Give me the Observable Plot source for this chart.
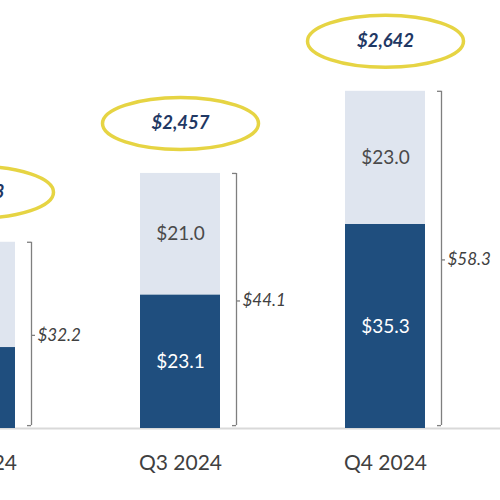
<!DOCTYPE html>
<html>
<head>
<meta charset="utf-8">
<script src="https://cdn.jsdelivr.net/npm/d3@7"></script>
<script src="https://cdn.jsdelivr.net/npm/@observablehq/plot@0.6"></script>
<style>
  html, body { margin: 0; padding: 0; background: #fff; }
  #chart { width: 500px; height: 500px; overflow: hidden; }
  svg { display: block; }
</style>
</head>
<body>
<div id="chart"></div>
<script>
const quarters = ["Q2 2024", "Q3 2024", "Q4 2024"];
const darkValues = [14.0, 23.1, 35.3];
const lightValues = [18.2, 21.0, 23.0];
const totals = [32.2, 44.1, 58.3];
const ellipseLabels = ["$2,283", "$2,457", "$2,642"];

const segments = [];
quarters.forEach((q, i) => {
  segments.push({q, seg: "dark", y1: 0, y2: darkValues[i], v: darkValues[i]});
  segments.push({q, seg: "light", y1: darkValues[i], y2: darkValues[i] + lightValues[i], v: lightValues[i]});
});
const tops = quarters.map((q, i) => ({q, total: totals[i], label: ellipseLabels[i], top: darkValues[i] + lightValues[i]}));

const fmt = v => "$" + v.toFixed(1);

// ellipse symbol drawn with cubic Béziers
function ellipseSymbol(rx, ry) {
  const k = 0.5522847;
  return {
    draw(ctx) {
      ctx.moveTo(rx, 0);
      ctx.bezierCurveTo(rx, ry * k, rx * k, ry, 0, ry);
      ctx.bezierCurveTo(-rx * k, ry, -rx, ry * k, -rx, 0);
      ctx.bezierCurveTo(-rx, -ry * k, -rx * k, -ry, 0, -ry);
      ctx.bezierCurveTo(rx * k, -ry, rx, -ry * k, rx, 0);
      ctx.closePath();
    }
  };
}

const darkColor = "#1f4e7e";
const lightColor = "#dfe5ef";
const font = "Lato, 'Open Sans', sans-serif";

const chart = Plot.plot({
  width: 500,
  height: 500,
  marginTop: 0,
  marginBottom: 72,
  marginLeft: 0,
  marginRight: 0,
  style: {fontFamily: font, background: "#fff"},
  x: {domain: quarters, range: [-128, 488], paddingInner: 0.61, paddingOuter: 0.305, axis: null},
  y: {domain: [0, 74], axis: null},
  marks: [
    Plot.ruleY([0], {stroke: "#d9d9d9", strokeWidth: 2}),
    Plot.barY(segments, {
      x: "q", y1: "y1", y2: "y2",
      fill: d => d.seg === "dark" ? darkColor : lightColor
    }),
    Plot.text(segments, {
      x: "q", y: d => (d.y1 + d.y2) / 2,
      text: d => fmt(d.v),
      fill: d => d.seg === "dark" ? "#ffffff" : "#4a4a4a",
      fontWeight: d => d.seg === "dark" ? "bold" : "normal",
      fontSize: 19
    }),
    // bracket vertical
    Plot.ruleX(tops, {x: "q", y1: 0.5, y2: "top", dx: 56, stroke: "#7f7f7f", strokeWidth: 1.3}),
    // bracket top and bottom hooks
    Plot.tickY(tops, {x: "q", y: "top", dx: 16, insetLeft: 76, stroke: "#7f7f7f", strokeWidth: 1.3}),
    Plot.tickY(tops, {x: "q", y: 0.5, dx: 16, insetLeft: 76, stroke: "#7f7f7f", strokeWidth: 1.3}),
    // middle tick
    Plot.tickY(tops, {x: "q", y: d => d.top / 2, dx: 20, insetLeft: 76, stroke: "#7f7f7f", strokeWidth: 1.3}),
    Plot.text(tops, {
      x: "q", y: d => d.top / 2, text: d => fmt(d.total),
      dx: 62, textAnchor: "start", fontStyle: "italic",
      fill: "#404040", fontSize: 17
    }),
    // ellipses
    Plot.dot(tops, {
      x: "q", y: "top", dy: -50,
      symbol: ellipseSymbol(78, 26), r: 1,
      fill: "#ffffff", stroke: "#e6d443", strokeWidth: 3.5
    }),
    Plot.text(tops, {
      x: "q", y: "top", dy: -50, text: "label",
      fontStyle: "italic", fontWeight: "bold", fill: "#1f3864", fontSize: 18.5
    }),
    // x labels
    Plot.text(quarters, {x: d => d, y: 0, dy: 35, text: d => d, fill: "#404040", fontSize: 21})
  ]
});
document.getElementById("chart").appendChild(chart);
</script>
</body>
</html>
